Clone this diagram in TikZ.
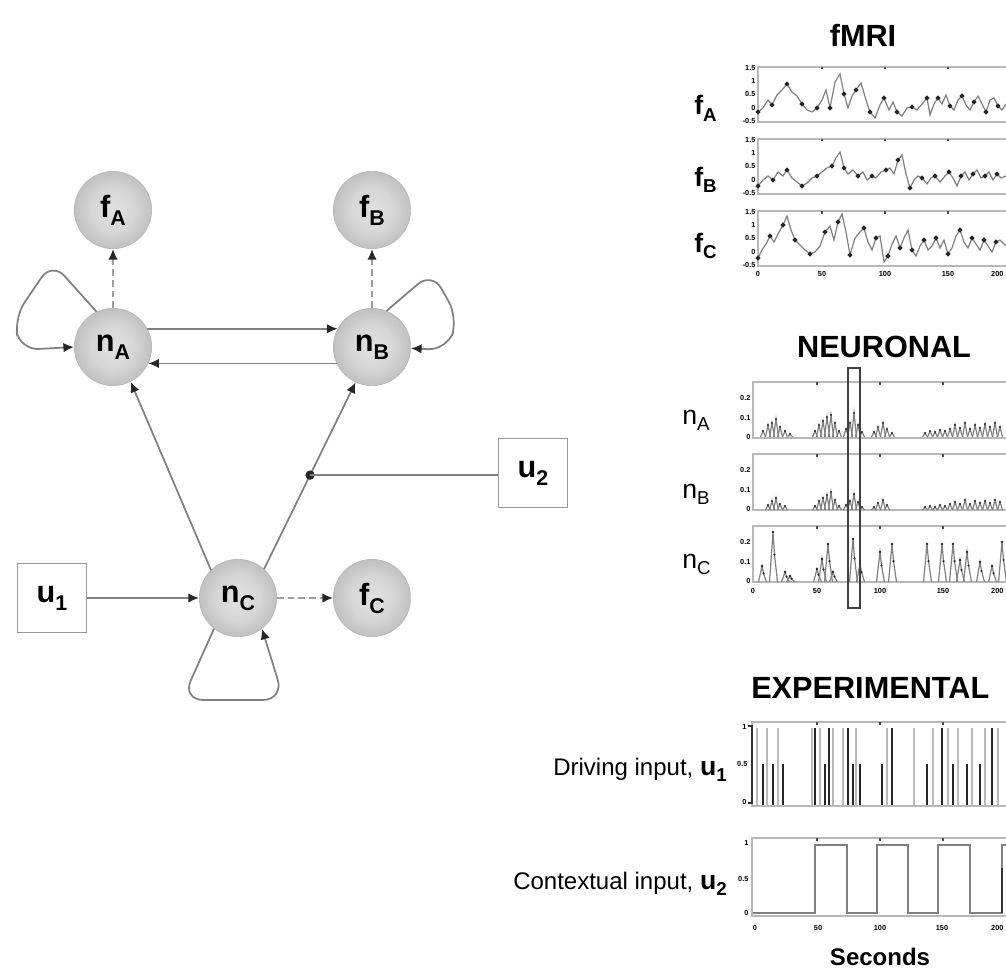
\documentclass[tikz,border=0pt]{standalone}
\usepackage{fontspec}
\setmainfont{Liberation Sans}
\usetikzlibrary{arrows.meta}
\definecolor{lg}{gray}{0.5}
\definecolor{dg}{gray}{0.62}
\definecolor{fr}{gray}{0.72}
\definecolor{tr}{gray}{0.5}
\pgfdeclareradialshading{sphere}{\pgfpoint{0bp}{0bp}}{color(0bp)=(black!12); color(14bp)=(black!16); color(32bp)=(black!30); color(44bp)=(black!48); color(48bp)=(black!50); color(50bp)=(black!40)}
\newcommand{\nodelab}[2]{\fontsize{23}{23}\selectfont\bfseries #1\raisebox{-6pt}{\fontsize{16}{16}\selectfont #2}}
\newcommand{\sidelab}[2]{\fontsize{20}{20}\selectfont #1\raisebox{-5pt}{\fontsize{14}{14}\selectfont #2}}
\tikzset{
  sph/.style={circle, minimum size=58pt, inner sep=0pt, shading=sphere, draw=black!30, line width=0.4pt},
  inbox/.style={draw=black!40, line width=0.8pt, minimum width=52pt, minimum height=52pt, inner sep=0pt, fill=white},
  conn/.style={draw=lg, line width=1.3pt, -{Latex[length=8pt,width=7pt,color=black!85]}},
  dconn/.style={conn, draw=dg, dash pattern=on 5pt off 3pt},
  plain/.style={draw=lg, line width=1.3pt},
  pframe/.style={draw=fr, line width=1.5pt},
  trace/.style={draw=tr, line width=0.9pt},
  ttl/.style={font=\bfseries\fontsize{23}{23}\selectfont, inner sep=0pt},
  tk/.style={font=\bfseries\fontsize{5.5}{5.5}\selectfont, inner sep=1pt},
  dot/.style={fill=black!85},
}
\begin{document}
\begin{tikzpicture}[x=0.75pt,y=-0.75pt]
\useasboundingbox (0,0) rectangle (1006,970);
\fill[white] (0,0) rectangle (1006,970);
\clip (0,0) rectangle (1006,970);

% ---------------- left graph ----------------
\node[sph] (fA) at (113,210) {\nodelab{f}{A}};
\node[sph] (fB) at (372,210) {\nodelab{f}{B}};
\node[sph] (nA) at (113,347) {\nodelab{n}{A}};
\node[sph] (nB) at (372,347) {\nodelab{n}{B}};
\node[sph] (nC) at (238,598) {\nodelab{n}{C}};
\node[sph] (fC) at (372,598) {\nodelab{f}{C}};
\node[inbox] (u1) at (52,598) {\nodelab{u}{1}};
\node[inbox] (u2) at (533,473) {\nodelab{u}{2}};

\draw[dconn] (nA.north) -- (fA.south);
\draw[dconn] (nB.north) -- (fB.south);
\draw[dconn] (nC.east) -- (fC.west);
\draw[conn] (nA.28) -- (nB.152);
\draw[conn] (nB.-155) -- (nA.-25);
\draw[conn] (u1.east) -- (nC.west);
\draw[conn] (nC.134) -- (nA.-63);
\draw[conn] (nC.48) -- coordinate[pos=0.503] (m) (nB.-115);
\fill[dot] (m) circle (3.5pt);
\draw[plain] (m) -- (m -| u2.west);
% self loops
\draw[conn, rounded corners=14pt] (nA.115) -- (52,262) -- (14,318) -- (20,350) -- (nA.180);
\draw[conn, rounded corners=14pt] (nB.68) -- (432,272) -- (458,318) -- (447,350) -- (nB.-2);
\draw[conn, rounded corners=16pt] (nC.-128) -- (182,700) -- (284,700) -- (nC.-52);

% ---------------- fMRI ----------------
\node[ttl] (tf) at (863,35) {fMRI};
\foreach \t in {67,139,211}{
  \draw[pframe] (758,\t) rectangle (1015,{\t+55});
  \foreach \xx in {822,885,948}{\draw[black!70, line width=1.2pt] (\xx,\t) -- (\xx,{\t+2.5});}
}
\foreach \t/\a/\b/\c/\d/\e in {67/1.5/1/0.5/0/-0.5,139/1.5/1/0.5/0/-0.5,211/1.5/1/0.5/0/-0.5}{
  \node[tk, anchor=east] at (757,{\t+1}) {\a};
  \node[tk, anchor=east] at (757,{\t+14}) {\b};
  \node[tk, anchor=east] at (757,{\t+27}) {\c};
  \node[tk, anchor=east] at (757,{\t+41}) {\d};
  \node[tk, anchor=east] at (757,{\t+54}) {\e};
}
\foreach \xx/\l in {758/0,822/50,885/100,948/150}{\node[tk] at (\xx,274) {\l};}
\node[tk, anchor=east] at (1005,274) {200};
\node[anchor=base west, inner sep=0pt] (lfA) at (694,115) {\bfseries\sidelab{f}{A}};
\node[anchor=base west, inner sep=0pt] (lfB) at (694,186) {\bfseries\sidelab{f}{B}};
\node[anchor=base west, inner sep=0pt] (lfC) at (694,252) {\bfseries\sidelab{f}{C}};

\draw[trace] plot[mark=*, mark repeat=3, mark size=1.3pt, mark options={fill=black!85,draw=black!85}] coordinates {
(758,112) (763,108) (768,100) (772,105) (777,95) (782,90) (787,84) (792,92) (797,96) (802,104) (807,110) (812,112) (817,108) (822,100) (826,90) (830,108) (835,82) (840,74) (844,94) (848,108) (852,96) (856,90) (861,83) (866,100) (870,112) (875,118) (880,105) (884,98) (889,110) (893,102) (897,112) (902,116) (907,108) (912,107) (917,110) (922,104) (927,98) (930,115) (934,104) (938,98) (942,104) (946,95) (950,106) (954,110) (958,100) (962,96) (966,105) (970,110) (974,102) (978,96) (982,104) (986,112) (990,100) (994,98) (998,106) (1002,110) (1006,104)};
\draw[trace] plot[mark=*, mark repeat=3, mark size=1.3pt, mark options={fill=black!85,draw=black!85}] coordinates {
(758,186) (763,180) (768,176) (773,180) (778,172) (783,176) (787,170) (792,178) (797,182) (802,186) (807,183) (812,178) (817,176) (822,172) (827,168) (832,166) (836,158) (840,152) (844,168) (848,174) (853,170) (858,176) (863,172) (867,180) (872,176) (876,178) (881,172) (886,170) (890,168) (894,174) (898,160) (902,155) (906,174) (910,188) (914,180) (918,176) (922,178) (927,184) (931,178) (935,176) (940,182) (945,176) (949,172) (953,178) (957,186) (961,176) (965,172) (969,180) (973,174) (977,170) (981,178) (985,176) (989,172) (993,180) (997,174) (1001,178) (1006,176)};
\draw[trace] plot[mark=*, mark repeat=3, mark size=1.3pt, mark options={fill=black!85,draw=black!85}] coordinates {
(758,258) (762,250) (766,244) (770,236) (774,242) (778,234) (783,225) (787,216) (791,230) (795,240) (800,245) (805,250) (810,254) (815,252) (820,246) (825,232) (830,226) (834,240) (838,222) (842,214) (846,232) (850,255) (855,238) (860,232) (864,228) (868,242) (872,250) (876,238) (880,236) (884,262) (888,256) (892,244) (896,236) (900,248) (904,238) (908,230) (912,250) (916,256) (920,246) (924,240) (928,250) (932,246) (936,238) (940,248) (944,240) (948,254) (952,248) (956,236) (960,230) (964,242) (968,248) (972,238) (976,244) (980,250) (984,240) (988,246) (992,252) (996,242) (1000,240) (1006,246)};

% ---------------- NEURONAL ----------------
\node[ttl] (tn) at (884,347) {NEURONAL};
\foreach \t in {382,454,526}{
  \draw[pframe] (753,\t) rectangle (1015,{\t+56});
  \foreach \xx in {817,880,943}{\draw[black!70, line width=1.2pt] (\xx,\t) -- (\xx,{\t+2.5});}
  \node[tk, anchor=east] at (752,{\t+16}) {0.2};
  \node[tk, anchor=east] at (752,{\t+36}) {0.1};
  \node[tk, anchor=east] at (752,{\t+55}) {0};
}
\foreach \xx/\l in {753/0,817/50,880/100,943/150}{\node[tk] at (\xx,591) {\l};}
\node[tk, anchor=east] at (1005,591) {200};
\node[anchor=base west, inner sep=0pt] (lnA) at (682,424) {\sidelab{n}{A}};
\node[anchor=base west, inner sep=0pt] (lnB) at (682,498) {\sidelab{n}{B}};
\node[anchor=base west, inner sep=0pt] (lnC) at (682,568) {\sidelab{n}{C}};
% nA bumps
\foreach \x/\h in {763/6,768/12,772/14,776/18,780/10,785/6,790/3,815/6,819/12,823/16,827/20,831/22,835/14,839/6,846/8,850/14,854/24,858/12,862/5,874/5,878/10,883/14,887/8,892/4,925/4,930/6,935/5,940/7,945/6,950/8,955/12,960/9,965/14,970/8,975/12,980/9,985/13,990/10,995/14,1000/10}{
  \draw[trace] ({\x-2.5},437) -- (\x,{437-\h}) -- ({\x+2.5},437);
  \fill[dot] (\x,{437-\h}) circle (0.9pt);
}
% nB bumps
\foreach \x/\h in {768/5,772/9,776/12,780/6,785/4,815/4,819/9,823/12,827/15,831/18,835/10,839/4,846/5,850/9,854/16,858/8,862/3,874/3,878/7,883/10,887/5,925/3,930/4,935/3,940/5,945/4,950/6,955/8,960/6,965/10,970/6,975/9,980/7,985/9,990/7,995/10,1000/8}{
  \draw[trace] ({\x-2.5},510) -- (\x,{510-\h}) -- ({\x+2.5},510);
  \fill[dot] (\x,{510-\h}) circle (0.9pt);
}
% nC spikes
\foreach \x/\h in {762/16,773/50,785/10,790/6,817/13,822/23,828/38,833/10,853/43,860/18,880/30,892/38,927/38,942/38,953/38,960/22,967/30,980/20,992/16,1002/40}{
  \draw[trace] ({\x-3.5},582) -- (\x,{582-\h}) -- ({\x+1.5},{582-0.55*\h}) -- ({\x+4.5},582);
  \fill[dot] (\x,{582-\h}) circle (1pt);
  \fill[dot] ({\x+1.5},{582-0.55*\h}) circle (0.9pt);
}
\draw[black!75, line width=1pt] (848,368) rectangle (860,608);

% ---------------- EXPERIMENTAL ----------------
\node[ttl, anchor=west] (te) at (751,688) {EXPERIMENTAL};
\draw[pframe] (752,722) rectangle (1015,806);
\draw[pframe] (752,838) rectangle (1015,916);
\foreach \xx in {817,880,943}{
  \draw[black!70, line width=1.2pt] (\xx,722) -- (\xx,724.5);
  \draw[black!70, line width=1.2pt] (\xx,838) -- (\xx,840.5);}
\draw[black!80, line width=1.3pt] (748,726) -- (752,726) -- (752,803) -- (748,803);
\node[tk, anchor=east] at (748,727) {1};
\node[tk, anchor=east] at (749,764) {0.5};
\node[tk, anchor=east] at (748,802) {0};
\node[tk, anchor=east] at (750,843) {1};
\node[tk, anchor=east] at (750,879) {0.5};
\node[tk, anchor=east] at (750,913) {0};
\foreach \xx/\l in {755/0,818/50,880/100,942/150}{\node[tk] at (\xx,928) {\l};}
\node[tk, anchor=east] at (1005,928) {200};
\foreach \x in {757,767,778,812,820,833,843,856,887,914,933,948,958,972,985,998}
  \draw[gray!55, line width=1.4pt] (\x,805) -- (\x,728);
\foreach \x in {763,773,783,825,853,860,882,927,953,967,980}
  \draw[black!85, line width=2.2pt] (\x,805) -- (\x,764);
\foreach \x in {815,829,848,892,942,992}
  \draw[black!85, line width=2.2pt] (\x,805) -- (\x,728);
\draw[trace] (753,913) -- (815,913) -- (815,845) -- (847,845) -- (847,913) -- (877,913) -- (877,845) -- (908,845) -- (908,913) -- (938,913) -- (938,845) -- (970,845) -- (970,913) -- (1002,913) -- (1002,845) -- (1015,845);
\draw[black!80, line width=1.6pt] (1002,913) -- (1002,868);
\node[anchor=base east, inner sep=0pt] (ld) at (727,775) {\fontsize{18}{18}\selectfont Driving input, \bfseries\sidelab{u}{1}};
\node[anchor=base east, inner sep=0pt] (lc) at (727,889) {\fontsize{18}{18}\selectfont Contextual input, \bfseries\sidelab{u}{2}};
\node[font=\bfseries\fontsize{18}{18}\selectfont] (sec) at (880,957) {Seconds};
\end{tikzpicture}
\end{document}
